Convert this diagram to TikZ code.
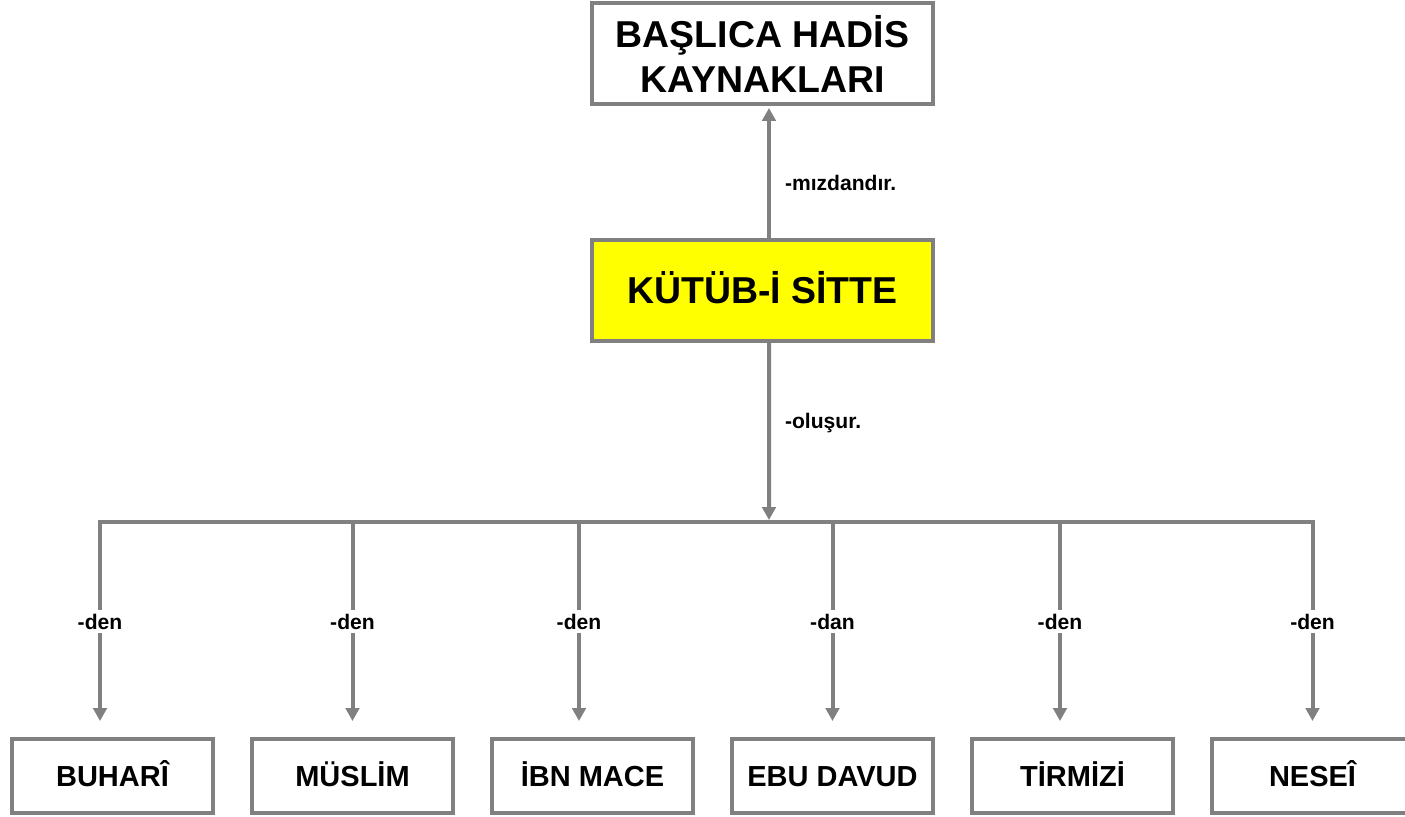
\documentclass[tikz,border=0pt]{standalone}
\usepackage{fontspec}
\setmainfont{Liberation Sans}
\usetikzlibrary{arrows.meta}
\definecolor{cizgi}{HTML}{808080}
\definecolor{sari}{HTML}{FFFF00}

\begin{document}
\begin{tikzpicture}[
    kutu/.style={draw=cizgi, line width=0.08cm, rectangle, fill=white,
                 minimum width=6.82cm, minimum height=2.02cm,
                 align=center, font=\fontsize{21.3}{25.6}\selectfont\bfseries},
    ana/.style={kutu, fill=sari, text height=15.25pt, text depth=0pt},
    kitap/.style={draw=cizgi, line width=0.08cm, rectangle, fill=white,
                  minimum width=4.02cm, minimum height=1.48cm,
                  text height=11.8pt, text depth=0pt,
                  font=\fontsize{16.5}{19.8}\selectfont\bfseries},
    bag/.style={draw=cizgi, line width=0.08cm,
                -{Triangle[width=0.27cm,length=0.26cm]}},
    hat/.style={draw=cizgi, line width=0.08cm, line cap=rect},
    etk/.style={font=\fontsize{12}{14}\selectfont\bfseries, midway,
                fill=white, inner sep=2pt},
    yan/.style={font=\fontsize{12}{14}\selectfont\bfseries,
                anchor=west, xshift=0.21cm, inner sep=2pt}
]
\useasboundingbox (0,0) rectangle (28.1,-16.34);
\clip (0,0) rectangle (28.1,-16.34);

% Ust kutular
\node[kutu] (kaynak) at (15.25,-1.07) {BAŞLICA HADİS\\KAYNAKLARI};
\node[ana]  (sitte)  at (15.25,-5.81) {KÜTÜB-İ SİTTE};

% Alt kutular (kitaplar)
\node[kitap] (buhari)   at (2.25,-15.52)  {BUHARÎ};
\node[kitap] (muslim)   at (7.05,-15.52)  {MÜSLİM};
\node[kitap] (ibnmace)  at (11.85,-15.52) {İBN MACE};
\node[kitap] (ebudavud) at (16.65,-15.52) {EBU DAVUD};
\node[kitap] (tirmizi)  at (21.45,-15.52) {TİRMİZİ};
\node[kitap] (nesei)    at (26.25,-15.52) {NESEÎ};

% Ok uclari
\coordinate (bus) at (15.38,-10.44);
\coordinate (u1) at ([xshift=-0.25cm,yshift=0.32cm]buhari.north);
\coordinate (u2) at ([yshift=0.32cm]muslim.north);
\coordinate (u3) at ([xshift=-0.27cm,yshift=0.32cm]ibnmace.north);
\coordinate (u4) at ([yshift=0.32cm]ebudavud.north);
\coordinate (u5) at ([xshift=-0.25cm,yshift=0.32cm]tirmizi.north);
\coordinate (u6) at ([yshift=0.32cm]nesei.north);

% Kutub-i Sitte -> Baslica hadis kaynaklari
\draw[bag] ([xshift=0.13cm]sitte.north) -- node[yan, pos=0.42]{-mızdandır.}
           ([xshift=0.13cm,yshift=-0.04cm]kaynak.south);

% Kutub-i Sitte -> yatay hat
\draw[bag] ([xshift=0.13cm]sitte.south) -- node[yan, pos=0.45]{-oluşur.}
           ([yshift=0.04cm]bus);

% Yatay hat
\draw[hat] (u1 |- bus) -- (u6 |- bus);

% Hat -> kitaplar
\draw[bag] (u1 |- bus) -- node[etk]{-den} (u1);
\draw[bag] (u2 |- bus) -- node[etk]{-den} (u2);
\draw[bag] (u3 |- bus) -- node[etk]{-den} (u3);
\draw[bag] (u4 |- bus) -- node[etk]{-dan} (u4);
\draw[bag] (u5 |- bus) -- node[etk]{-den} (u5);
\draw[bag] (u6 |- bus) -- node[etk]{-den} (u6);

\end{tikzpicture}
\end{document}
